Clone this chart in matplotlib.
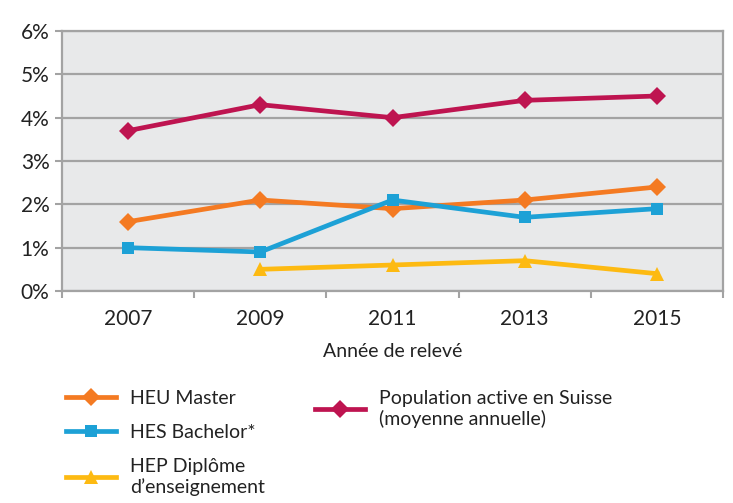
import matplotlib
matplotlib.use("Agg")
import matplotlib.pyplot as plt
import numpy as np

years = ["2007", "2009", "2011", "2013", "2015"]
heu_master = [1.6, 2.1, 1.9, 2.1, 2.4]
hes_bachelor = [1.0, 0.9, 2.1, 1.7, 1.9]
hep_diplome = [np.nan, 0.5, 0.6, 0.7, 0.4]
population = [3.7, 4.3, 4.0, 4.4, 4.5]
y_ticks = [0, 1, 2, 3, 4, 5, 6]
y_labels = ["0%", "1%", "2%", "3%", "4%", "5%", "6%"]

plt.rcParams['font.family'] = ['Lato', 'DejaVu Sans']

C_ORANGE = "#F47A22"
C_BLUE = "#1DA1D6"
C_YELLOW = "#FDBA12"
C_RED = "#BE1450"
GRID = "#A3A3A3"
TXT = "#222222"

fig = plt.figure(figsize=(7.33, 5.03), dpi=100)
ax = fig.add_axes([62/733, 1-291/503, 661/733, 260/503])
ax.set_facecolor("#E8E9EA")

x = np.arange(len(years))
series = [
    (heu_master, C_ORANGE, "D", 9.5, "HEU Master"),
    (hes_bachelor, C_BLUE, "s", 9, "HES Bachelor*"),
    (hep_diplome, C_YELLOW, "^", 9.5, "HEP Diplôme\nd\u2019enseignement"),
    (population, C_RED, "D", 9.5, "Population active en Suisse\n(moyenne annuelle)"),
]
handles = []
for vals, col, mk, ms, lab in series:
    h, = ax.plot(x, vals, color=col, lw=3.4, marker=mk, markersize=ms,
                 markeredgewidth=0, label=lab, zorder=3)
    handles.append(h)

ax.set_xlim(-0.5, 4.5)
ax.set_ylim(0, 6)
ax.set_yticks(y_ticks)
ax.set_yticklabels(y_labels, fontsize=15, color=TXT)
ax.set_xticks(x)
ax.set_xticklabels(years, fontsize=15, color=TXT)
ax.tick_params(axis="x", which="major", length=0, pad=13)
ax.set_xticks(np.arange(-0.5, 4.6, 1), minor=True)
ax.tick_params(axis="x", which="minor", length=5, color=GRID, width=1.5)
ax.tick_params(axis="y", length=5, color=GRID, width=1.5, pad=4)
ax.grid(axis="y", color=GRID, lw=1.6, zorder=1)
ax.set_axisbelow(True)
for s in ax.spines.values():
    s.set_color(GRID)
    s.set_linewidth(1.6)

ax.set_xlabel("Année de relevé", fontsize=14, color=TXT, labelpad=10)

common = dict(frameon=False, fontsize=14, handlelength=2.6,
              handletextpad=0.7, borderpad=0)
leg1 = fig.legend(handles=handles[:3], loc="upper left",
                  bbox_to_anchor=(56/733, 1-380/503), labelspacing=0.88,
                  **common)
leg2 = fig.legend(handles=handles[3:], loc="upper left",
                  bbox_to_anchor=(305/733, 1-380/503), **common)
for t in list(leg1.get_texts()) + list(leg2.get_texts()):
    t.set_color(TXT)

fig.savefig("out.png", dpi=100)
